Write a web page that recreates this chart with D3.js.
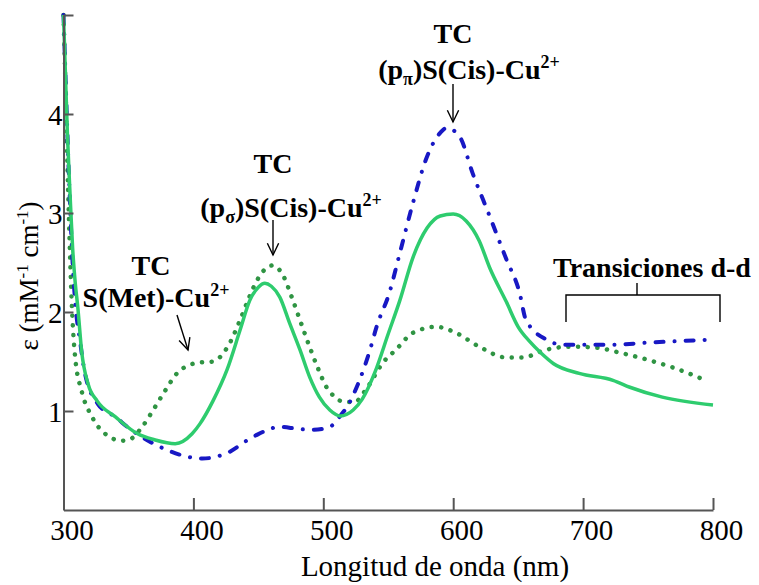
<!DOCTYPE html>
<html>
<head>
<meta charset="utf-8">
<script src="https://cdn.jsdelivr.net/npm/d3@7"></script>
<style>
  html, body { margin: 0; padding: 0; background: #fff; }
  svg { display: block; }
  svg text { font-family: "Liberation Serif", "Times New Roman", Tinos, "DejaVu Serif", serif; }
</style>
</head>
<body>
<svg id="chart" width="759" height="585"></svg>
<script>
// ---- data ----
const xTicks = [300, 400, 500, 600, 700, 800];
const xTickLabels = ["300", "400", "500", "600", "700", "800"];
const yTicks = [1, 2, 3, 4, 5];
const yTickLabels = ["1", "2", "3", "4", ""];

const solidWl  = [300, 301.5, 303, 305, 307, 309, 311, 314, 319, 326, 340, 357, 370, 386, 399, 405, 415, 426, 436, 443.5, 450, 455, 460, 466.5, 474, 482, 489.6, 497, 505, 513, 523, 530, 540, 550, 559, 569, 580, 590, 600, 610, 620, 628, 641, 650, 659, 668, 677, 697, 723, 736, 761, 800];
const solidEps = [5.0, 4.4, 3.8, 3.2, 2.65, 2.3, 2.05, 1.6, 1.27, 1.1, 0.94, 0.77, 0.71, 0.67, 0.77, 0.87, 1.1, 1.42, 1.82, 2.12, 2.25, 2.29, 2.26, 2.15, 1.89, 1.62, 1.34, 1.14, 1.01, 0.95, 1.01, 1.12, 1.4, 1.78, 2.12, 2.55, 2.85, 2.97, 2.99, 2.92, 2.72, 2.45, 2.1, 1.85, 1.7, 1.58, 1.48, 1.38, 1.31, 1.24, 1.14, 1.06];

const blueWl  = [300, 301.5, 303, 305, 307, 309, 312.7, 316.5, 326.5, 340, 350, 360, 374, 395, 407, 425, 446, 467, 480, 492, 505, 513, 520, 526, 531, 536, 541, 551, 559, 569, 579, 590, 595, 605, 615, 628, 641, 651, 656, 672, 684, 723, 749, 797];
const blueEps = [5.0, 4.4, 3.8, 3.1, 2.5, 2.1, 1.71, 1.38, 1.07, 0.94, 0.83, 0.74, 0.64, 0.54, 0.52, 0.57, 0.74, 0.84, 0.82, 0.81, 0.84, 0.95, 1.08, 1.25, 1.42, 1.62, 1.85, 2.2, 2.6, 3.1, 3.54, 3.81, 3.86, 3.77, 3.4, 2.97, 2.53, 2.2, 1.92, 1.72, 1.67, 1.67, 1.69, 1.72];

const dotWl  = [300, 301.5, 303, 304.5, 306.5, 309, 314, 322, 332, 345, 352, 360, 370, 378, 388, 396, 405, 415, 426, 436, 443, 449, 455, 461, 469, 476, 482, 488, 495, 502.5, 509, 516.5, 524, 533, 546, 556, 569, 587, 602, 620, 641, 653, 672, 689, 710, 728, 749, 769, 796];
const dotEps = [5.0, 4.3, 3.5, 2.8, 2.04, 1.54, 1.2, 0.94, 0.77, 0.7, 0.72, 0.83, 1.03, 1.2, 1.39, 1.46, 1.49, 1.5, 1.64, 1.92, 2.15, 2.32, 2.43, 2.47, 2.37, 2.14, 1.92, 1.7, 1.46, 1.24, 1.14, 1.09, 1.09, 1.22, 1.49, 1.62, 1.79, 1.85, 1.79, 1.65, 1.54, 1.54, 1.62, 1.65, 1.64, 1.59, 1.52, 1.44, 1.3];

const xTitle = "Longitud de onda (nm)";

// ---- scales ----
const svg = d3.select("#chart");
const x = d3.scaleLinear().domain([300, 800]).range([63.5, 713]);
const y = d3.scaleLinear().domain([0, 5]).range([510, 15]);

// ---- curves ----
const line = d3.line().x(d => x(d[0])).y(d => y(d[1])).curve(d3.curveMonotoneX);
const zip = (a, b) => a.map((v, i) => [v, b[i]]);

svg.append("path").datum(zip(dotWl, dotEps))
  .attr("d", line).attr("fill", "none")
  .attr("stroke", "#2f9443").attr("stroke-width", 4.5)
  .attr("stroke-linecap", "round").attr("stroke-dasharray", "0.1,9.6");

svg.append("path").datum(zip(blueWl, blueEps))
  .attr("d", line).attr("fill", "none")
  .attr("stroke", "#1818c4").attr("stroke-width", 4)
  .attr("stroke-linecap", "round").attr("stroke-dasharray", "8,11,0.1,11");

svg.append("path").datum(zip(solidWl, solidEps))
  .attr("d", line).attr("fill", "none")
  .attr("stroke", "#2ecc6e").attr("stroke-width", 3.5)
  .attr("stroke-linejoin", "round");

// ---- axes ----
const xAxis = d3.axisBottom(x).tickValues(xTicks)
  .tickFormat((d, i) => xTickLabels[i]).tickSizeInner(-12).tickSizeOuter(0);
const gx = svg.append("g").attr("transform", "translate(0,510)").call(xAxis);
gx.attr("font-family", null);
gx.select(".domain").attr("stroke", "#555").attr("stroke-width", 2);
gx.selectAll(".tick line").attr("stroke", "#555").attr("stroke-width", 2);
gx.selectAll(".tick text").attr("y", 30).attr("dy", 0).attr("dx", 8)
  .attr("font-size", 29).attr("fill", "#000");

const yAxis = d3.axisLeft(y).tickValues(yTicks)
  .tickFormat((d, i) => yTickLabels[i]).tickSizeInner(-10).tickSizeOuter(0);
const gy = svg.append("g").attr("transform", "translate(63.5,0)").call(yAxis);
gy.attr("font-family", null);
gy.select(".domain").attr("stroke", "#555").attr("stroke-width", 2);
gy.selectAll(".tick line").attr("stroke", "#555").attr("stroke-width", 2);
gy.selectAll(".tick text").attr("x", -1).attr("dy", "0.35em")
  .attr("font-size", 29).attr("fill", "#000");
svg.selectAll(".domain").attr("fill", "none");

// axis titles
svg.append("text").attr("x", 435).attr("y", 576).attr("text-anchor", "middle")
  .attr("font-size", 29).attr("fill", "#000").text(xTitle);

const yt = svg.append("text").attr("transform", "translate(38,276) rotate(-90)")
  .attr("text-anchor", "middle").attr("font-size", 27).attr("fill", "#000");
yt.append("tspan").text("ε (mM");
yt.append("tspan").attr("font-size", 17).attr("dy", -10).text("-1");
yt.append("tspan").attr("dy", 10).text(" cm");
yt.append("tspan").attr("font-size", 17).attr("dy", -10).text("-1");
yt.append("tspan").attr("dy", 10).text(")");

// ---- annotations ----
function boldText(xc, yb, parts) {
  const t = svg.append("text").attr("x", xc).attr("y", yb).attr("text-anchor", "middle")
    .attr("font-weight", "bold").attr("font-size", 28).attr("fill", "#000");
  parts.forEach(p => {
    const s = t.append("tspan").text(p.t);
    if (p.size) s.attr("font-size", p.size);
    if (p.dy) s.attr("dy", p.dy);
  });
  return t;
}
function arrow(x1, y1, x2, y2) {
  svg.append("line").attr("x1", x1).attr("y1", y1).attr("x2", x2).attr("y2", y2)
    .attr("stroke", "#000").attr("stroke-width", 1.4);
  const a = Math.atan2(y2 - y1, x2 - x1), L = 13, w = Math.PI / 7;
  const p = [[x2 - L * Math.cos(a - w), y2 - L * Math.sin(a - w)], [x2, y2], [x2 - L * Math.cos(a + w), y2 - L * Math.sin(a + w)]];
  svg.append("path").attr("d", d3.line()(p)).attr("fill", "none").attr("stroke", "#000").attr("stroke-width", 1.4);
}

// S(Met)
boldText(151, 275, [{t: "TC"}]);
boldText(156, 307, [{t: "S(Met)-Cu"}, {t: "2+", size: 18, dy: -11}]);
arrow(177, 315, 188, 350);

// (p sigma)
boldText(273, 173, [{t: "TC"}]);
boldText(291, 217, [{t: "(p"}, {t: "σ", size: 18, dy: 6}, {t: ")S(Cis)-Cu", dy: -6}, {t: "2+", size: 18, dy: -11}]);
arrow(273, 220, 273, 255);

// (p pi)
boldText(453, 43, [{t: "TC"}]);
boldText(469, 79, [{t: "(p"}, {t: "π", size: 18, dy: 6}, {t: ")S(Cis)-Cu", dy: -6}, {t: "2+", size: 18, dy: -11}]);
arrow(453, 84, 453, 122);

// Transiciones d-d
boldText(652, 277, [{t: "Transiciones d-d"}]);
svg.append("path").attr("d", "M566,322V295H720V322M637,295V283")
  .attr("fill", "none").attr("stroke", "#000").attr("stroke-width", 1.4);
</script>
</body>
</html>
